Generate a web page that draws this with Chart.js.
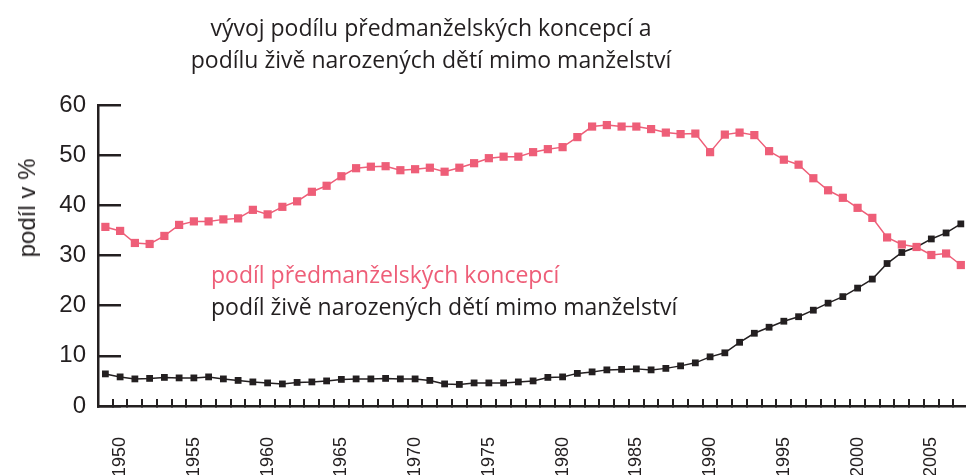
<!DOCTYPE html>
<html lang="cs">
<head>
<meta charset="utf-8">
<title>vývoj podílu předmanželských koncepcí</title>
<script src="https://cdn.jsdelivr.net/npm/chart.js@4.4.1/dist/chart.umd.min.js"></script>
<style>
    html, body {
        margin: 0;
        padding: 0;
        background: #fff;
        overflow: hidden;
        width: 966px;
        height: 475px;
    }
    .wrap {
        position: relative;
        width: 974px;
        height: 490px;
    }
    .chart-title {
        position: absolute;
        left: 0;
        top: 11px;
        width: 862px;
        text-align: center;
        font-family: "Open Sans", sans-serif;
        font-size: 23px;
        line-height: 32px;
        color: #231f20;
    }
    .y-title {
        position: absolute;
        left: 27px;
        top: 208px;
        transform: translate(-50%, -50%) rotate(-90deg);
        font-family: "Liberation Sans", Arial, sans-serif;
        font-size: 24px;
        color: #231f20;
        white-space: nowrap;
    }
    .series-label {
        position: absolute;
        left: 211px;
        font-family: "Open Sans", sans-serif;
        font-size: 23px;
        line-height: 32px;
        white-space: nowrap;
    }
    .series-label.premarital { top: 258px; color: #ee5e78; }
    .series-label.extramarital { top: 290px; color: #231f20; }
</style>
</head>
<body>
<div class="wrap">
    <canvas id="chart-canvas"></canvas>
    <div class="chart-title">vývoj podílu předmanželských koncepcí a<br>podílu živě narozených dětí mimo manželství</div>
    <div class="y-title">podíl v %</div>
    <div class="series-label premarital">podíl předmanželských koncepcí</div>
    <div class="series-label extramarital">podíl živě narozených dětí mimo manželství</div>
</div>
<script>
// ── Data ──────────────────────────────────────────────────────────────────────
const years = [
    1949, 1950, 1951, 1952, 1953, 1954, 1955, 1956, 1957, 1958,
    1959, 1960, 1961, 1962, 1963, 1964, 1965, 1966, 1967, 1968,
    1969, 1970, 1971, 1972, 1973, 1974, 1975, 1976, 1977, 1978,
    1979, 1980, 1981, 1982, 1983, 1984, 1985, 1986, 1987, 1988,
    1989, 1990, 1991, 1992, 1993, 1994, 1995, 1996, 1997, 1998,
    1999, 2000, 2001, 2002, 2003, 2004, 2005, 2006, 2007,
];

// podíl předmanželských koncepcí (%)
const premaritalConceptions = [
    35.7, 34.9, 32.5, 32.3, 33.9, 36.1, 36.8, 36.8, 37.2, 37.4,
    39.1, 38.2, 39.7, 40.8, 42.7, 43.9, 45.8, 47.4, 47.7, 47.8,
    47.0, 47.2, 47.5, 46.7, 47.5, 48.4, 49.4, 49.7, 49.7, 50.6,
    51.2, 51.6, 53.6, 55.7, 56.0, 55.7, 55.7, 55.2, 54.5, 54.2,
    54.3, 50.6, 54.1, 54.5, 54.0, 50.8, 49.1, 48.1, 45.4, 43.0,
    41.5, 39.5, 37.5, 33.6, 32.2, 31.7, 30.1, 30.4, 28.1,
];

// podíl živě narozených dětí mimo manželství (%)
const extramaritalBirths = [
    6.4, 5.8, 5.4, 5.5, 5.7, 5.6, 5.6, 5.8, 5.4, 5.1,
    4.8, 4.6, 4.4, 4.7, 4.8, 5.0, 5.3, 5.4, 5.4, 5.5,
    5.4, 5.4, 5.1, 4.4, 4.3, 4.6, 4.6, 4.6, 4.8, 5.0,
    5.7, 5.8, 6.5, 6.8, 7.2, 7.3, 7.4, 7.2, 7.5, 8.0,
    8.6, 9.8, 10.6, 12.7, 14.5, 15.7, 16.9, 17.8, 19.1, 20.5,
    21.8, 23.5, 25.3, 28.4, 30.6, 31.7, 33.3, 34.5, 36.3,
];

const yTicks = [0, 10, 20, 30, 40, 50, 60];

// ── Styles ────────────────────────────────────────────────────────────────────
const PINK = "#ee5e78";
const INK = "#231f20";

// ── Chart rendering ───────────────────────────────────────────────────────────
const canvas = document.getElementById("chart-canvas");

new Chart(canvas.getContext("2d"), {
    type: "line",
    data: {
        labels: years.map(String),
        datasets: [
            {
                label: "podíl předmanželských koncepcí",
                data: premaritalConceptions,
                borderColor: PINK,
                backgroundColor: PINK,
                borderWidth: 1.5,
                pointStyle: "rect",
                pointRadius: 5.8,
                pointBorderWidth: 0,
                tension: 0,
                fill: false,
                clip: false,
            },
            {
                label: "podíl živě narozených dětí mimo manželství",
                data: extramaritalBirths,
                borderColor: INK,
                backgroundColor: INK,
                borderWidth: 1.5,
                pointStyle: "rect",
                pointRadius: 4.8,
                pointBorderWidth: 0,
                tension: 0,
                fill: false,
                clip: false,
            },
        ],
    },
    options: {
        responsive: true,
        maintainAspectRatio: false,
        animation: false,
        layout: { padding: { top: 105, right: 0, bottom: 0, left: 0 } },
        plugins: {
            legend: { display: false },
            title: { display: false },
            tooltip: { enabled: false },
        },
        scales: {
            x: {
                type: "category",
                offset: true,
                afterFit: (scale) => {
                    scale.height = 84;
                    scale.paddingLeft = 0;
                    scale.paddingRight = 0;
                },
                border: { display: true, color: INK, width: 2.5 },
                grid: {
                    offset: true,
                    drawOnChartArea: false,
                    drawTicks: true,
                    tickLength: -7,
                    color: INK,
                    lineWidth: 2,
                },
                ticks: {
                    autoSkip: false,
                    minRotation: 90,
                    maxRotation: 90,
                    padding: 38,
                    color: INK,
                    font: { family: "'Liberation Sans', Arial, sans-serif", size: 18 },
                    callback: (v, i) => (years[i] % 5 === 0 ? String(years[i]) : ""),
                },
            },
            y: {
                min: yTicks[0],
                max: yTicks[yTicks.length - 1],
                afterFit: (scale) => { scale.width = 98; },
                afterBuildTicks: (scale) => { scale.ticks = yTicks.map((v) => ({ value: v })); },
                border: { display: true, color: INK, width: 2.5 },
                grid: {
                    drawOnChartArea: false,
                    drawTicks: true,
                    tickLength: -23,
                    color: INK,
                    lineWidth: 2.5,
                },
                ticks: {
                    padding: 35,
                    color: INK,
                    font: { family: "'Liberation Sans', Arial, sans-serif", size: 24 },
                },
            },
        },
    },
});
</script>
</body>
</html>
